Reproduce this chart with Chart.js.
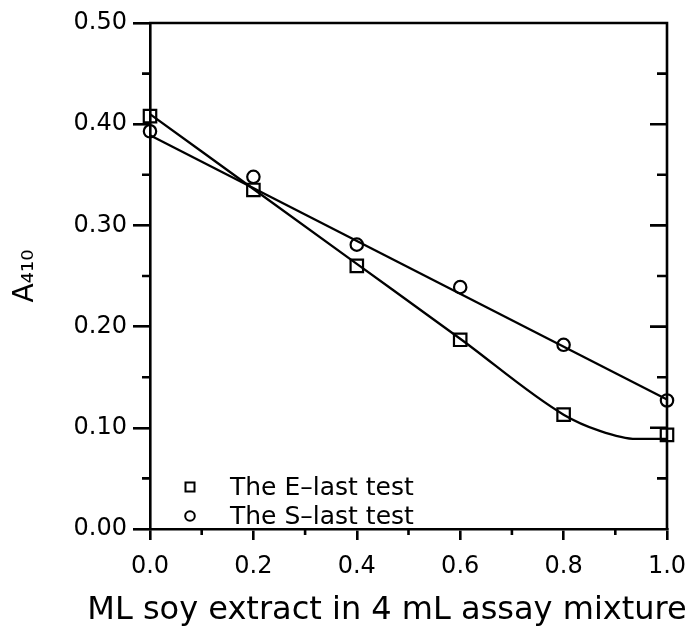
<!DOCTYPE html>
<html>
<head>
<meta charset="utf-8">
<script src="https://cdn.jsdelivr.net/npm/chart.js@4/dist/chart.umd.min.js"></script>
<style>
  html, body { margin: 0; padding: 0; background: #fff; }
  #wrap { width: 690px; height: 627px; }
</style>
</head>
<body>
<div id="wrap"><canvas id="chart" width="690" height="627"></canvas></div>
<script>
// ---- data ----
const xValues = [0.0, 0.2, 0.4, 0.6, 0.8, 1.0];
const eLast = [0.408, 0.335, 0.260, 0.187, 0.113, 0.093];   // squares
const sLast = [0.393, 0.348, 0.281, 0.239, 0.182, 0.127];   // circles

// drawn curves
const eCurveX = [0.0, 0.2, 0.4, 0.6, 0.8, 0.87, 0.94, 1.0];
const eCurveY = [0.410, 0.336, 0.262, 0.188, 0.113, 0.097, 0.089, 0.089];
const sCurveX = [0.0, 1.0];
const sCurveY = [0.389, 0.128];

const seriesNames = ['The E\u2013last test', 'The S\u2013last test'];
const xTitle = 'ML soy extract in 4 mL assay mixture';
const xTicksMajor = [0.0, 0.2, 0.4, 0.6, 0.8, 1.0];
const xTicksMinor = [0.1, 0.3, 0.5, 0.7, 0.9];
const yTicksMajor = [0.0, 0.1, 0.2, 0.3, 0.4, 0.5];
const yTicksMinor = [0.05, 0.15, 0.25, 0.35, 0.45];

const FONT = 'DejaVu Sans';
const AXIS_W = 2.6;
const toPts = (xs, ys) => xs.map((x, i) => ({ x: x, y: ys[i] }));

// extra axis decorations, x title and in-plot legend
const decorations = {
  id: 'decorations',
  afterDraw(chart) {
    const { ctx, scales: { x, y } } = chart;
    const L = x.getPixelForValue(0), R = x.getPixelForValue(1);
    const T = y.getPixelForValue(0.5), B = y.getPixelForValue(0);
    ctx.save();
    ctx.strokeStyle = '#000';
    ctx.lineWidth = AXIS_W;
    ctx.beginPath();
    // top and right frame
    ctx.moveTo(L - 1, T); ctx.lineTo(R, T); ctx.lineTo(R, B + 1);
    // left minor ticks
    yTicksMinor.forEach(v => { const p = y.getPixelForValue(v); ctx.moveTo(L, p); ctx.lineTo(L - 8, p); });
    // right ticks (inward)
    yTicksMajor.slice(1, -1).forEach(v => { const p = y.getPixelForValue(v); ctx.moveTo(R, p); ctx.lineTo(R - 17, p); });
    yTicksMinor.forEach(v => { const p = y.getPixelForValue(v); ctx.moveTo(R, p); ctx.lineTo(R - 10, p); });
    // bottom minor ticks
    xTicksMinor.forEach(v => { const p = x.getPixelForValue(v); ctx.moveTo(p, B); ctx.lineTo(p, B + 6); });
    ctx.stroke();

    // x axis title (sits a little left of the plot centre in the original)
    ctx.fillStyle = '#000';
    ctx.font = '32px "' + FONT + '"';
    ctx.textAlign = 'center';
    ctx.textBaseline = 'middle';
    ctx.fillText(xTitle, 387, 611);

    // legend
    ctx.font = '25px "' + FONT + '"';
    ctx.textAlign = 'left';
    ctx.lineWidth = 2;
    const rows = [487, 516];
    rows.forEach((ry, i) => {
      ctx.beginPath();
      if (i === 0) ctx.rect(185.5, ry - 4.5, 9, 9);
      else ctx.arc(190, ry, 4.8, 0, Math.PI * 2);
      ctx.stroke();
      ctx.fillText(seriesNames[i], 230, ry + 1);
    });
    ctx.restore();
  }
};

new Chart(document.getElementById('chart'), {
  type: 'scatter',
  data: {
    datasets: [
      {
        label: seriesNames[0] + ' curve',
        data: toPts(eCurveX, eCurveY),
        showLine: true, borderColor: '#000', borderWidth: 2.3,
        cubicInterpolationMode: 'monotone', pointRadius: 0, clip: false
      },
      {
        label: seriesNames[1] + ' line',
        data: toPts(sCurveX, sCurveY),
        showLine: true, borderColor: '#000', borderWidth: 2.3, pointRadius: 0, clip: false
      },
      {
        label: seriesNames[0],
        data: toPts(xValues, eLast),
        pointStyle: 'rect', pointRadius: 8.8, pointBorderWidth: 2.2,
        borderColor: '#000', backgroundColor: 'rgba(255,255,255,0)', clip: false
      },
      {
        label: seriesNames[1],
        data: toPts(xValues, sLast),
        pointStyle: 'circle', pointRadius: 6.2, pointBorderWidth: 2.2,
        borderColor: '#000', backgroundColor: 'rgba(255,255,255,0)', clip: false
      }
    ]
  },
  options: {
    responsive: false,
    animation: false,
    layout: { padding: { top: 23, right: 23, left: 0, bottom: 0 } },
    plugins: { legend: { display: false }, tooltip: { enabled: false } },
    scales: {
      x: {
        type: 'linear', min: 0, max: 1,
        afterBuildTicks: s => { s.ticks = xTicksMajor.map(v => ({ value: v })); },
        afterFit: s => { s.height = 98; s.paddingRight = 0; },
        ticks: {
          color: '#000', padding: 12, maxRotation: 0,
          font: { family: FONT, size: 24 },
          callback: v => Number(v).toFixed(1)
        },
        grid: { drawOnChartArea: false, color: '#000', lineWidth: AXIS_W, tickLength: 11 },
        border: { color: '#000', width: AXIS_W },
        title: { display: false }
      },
      y: {
        type: 'linear', min: 0, max: 0.5,
        afterBuildTicks: s => { s.ticks = yTicksMajor.map(v => ({ value: v })); },
        afterFit: s => { s.width = 150; },
        ticks: {
          color: '#000', padding: 6,
          font: { family: FONT, size: 24 },
          callback: v => Number(v).toFixed(2)
        },
        grid: { drawOnChartArea: false, color: '#000', lineWidth: AXIS_W, tickLength: 17 },
        border: { color: '#000', width: AXIS_W },
        title: {
          display: true, text: 'A\u2084\u2081\u2080', color: '#000',
          font: { family: FONT, size: 28, lineHeight: 1.0 }, padding: { top: 12, bottom: 0 }
        }
      }
    }
  },
  plugins: [decorations]
});
</script>
</body>
</html>
